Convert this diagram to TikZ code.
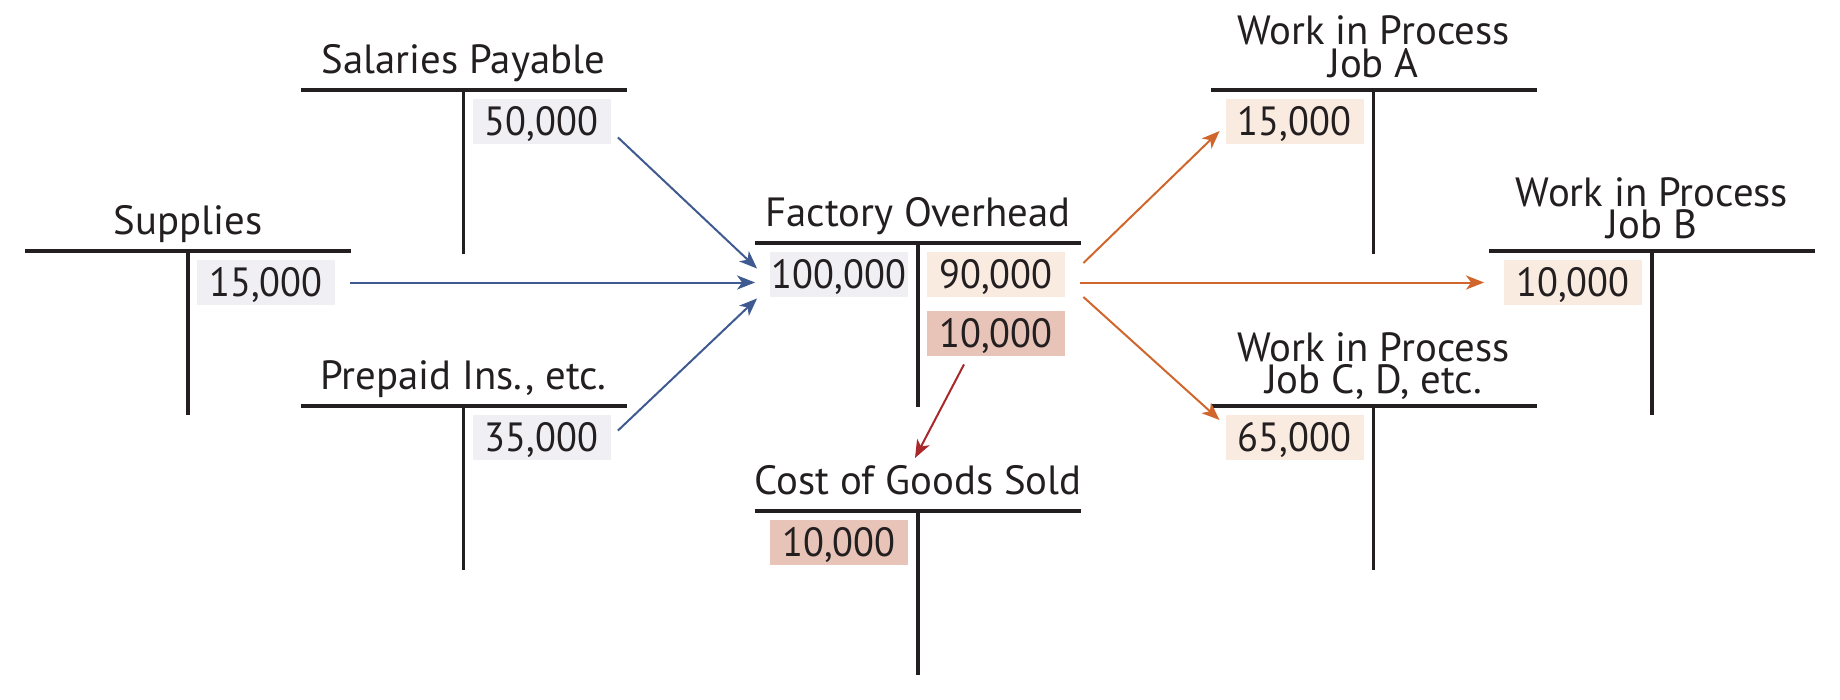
\documentclass[tikz,border=0pt]{standalone}
\usepackage{fontspec}
\setmainfont{PT Sans}
\newfontfamily\valfont[FakeStretch=0.94]{PT Sans}
\usetikzlibrary{arrows.meta,calc}
\definecolor{bbox}{RGB}{239,239,244}
\definecolor{obox}{RGB}{250,235,225}
\definecolor{rbox}{RGB}{232,196,184}
\definecolor{barr}{RGB}{63,90,145}
\definecolor{oarr}{RGB}{208,102,43}
\definecolor{rarr}{RGB}{168,40,43}
\definecolor{ink}{RGB}{35,31,32}
\newcommand{\tacc}[3]{%
  \coordinate (#1) at (#2,#3);
  \draw[hline] ([shift={(-163,0)}]#1) -- ([shift={(163,0)}]#1);
  \draw[vline] (#1) -- ([shift={(0,164)}]#1);
}
\begin{document}
\begin{tikzpicture}[x=0.5pt,y=-0.5pt,
  hline/.style={draw=ink,line width=2pt},
  vline/.style={draw=ink,line width=1.7pt},
  title/.style={anchor=base,inner sep=0pt,font=\fontsize{20.4}{24}\selectfont,text=ink},
  title2/.style={anchor=south,inner sep=0pt,align=center,text depth=0pt,font=\fontsize{20.4}{16.3}\selectfont,text=ink},
  val/.style={inner sep=0pt,minimum width=69pt,minimum height=22.5pt,text height=14.2pt,text depth=0pt,font=\valfont\fontsize{20.4}{24}\selectfont,text=ink},
  arr/.style={line width=1pt,-{Stealth[length=9pt,width=7pt,inset=2.5pt]}},
]
\useasboundingbox (0,0) rectangle (1840,700);

\tacc{sal}{463.5}{90}
\tacc{sup}{188}{251}
\tacc{pre}{463.5}{406}
\tacc{fo}{918}{243}
\tacc{cogs}{918}{511}
\tacc{ja}{1373.5}{90}
\tacc{jb}{1652}{251}
\tacc{jc}{1373.5}{406}

\node[title] (salT) at (463.5,73.5) {Salaries Payable};
\node[title] (supT) at (188,234.5) {Supplies};
\node[title] (preT) at (463.5,389.5) {Prepaid Ins., etc.};
\node[title] (foT) at (918,226.5) {Factory Overhead};
\node[title] (cogsT) at (918,494.5) {Cost of Goods Sold};
\node[title2] (jaT) at (1373.5,78) {Work in Process\\Job A};
\node[title2] (jbT) at (1652,239) {Work in Process\\Job B};
\node[title2] (jcT) at (1373.5,394) {Work in Process\\Job C, D, etc.};

\node[val,fill=bbox] (salV) at (541.5,121.5) {50,000};
\node[val,fill=bbox] (supV) at (266,282.5) {15,000};
\node[val,fill=bbox] (preV) at (541.5,437.5) {35,000};
\node[val,fill=bbox] (foL) at (839,274.5) {100,000};
\node[val,fill=obox] (foR1) at (996,274.5) {90,000};
\node[val,fill=rbox] (foR2) at (996,333.5) {10,000};
\node[val,fill=rbox] (cogsV) at (839,542.5) {10,000};
\node[val,fill=obox] (jaV) at (1294.5,121.5) {15,000};
\node[val,fill=obox] (jbV) at (1573,282.5) {10,000};
\node[val,fill=obox] (jcV) at (1294.5,437.5) {65,000};

\draw[arr,barr] ([shift={(7,-7)}]salV.south east) -- ([shift={(-12.5,17)}]foL.north west);
\draw[arr,barr] ([shift={(15,0)}]supV.east) -- ([shift={(-14.5,0)}]foL.west |- supV.east);
\draw[arr,barr] ([shift={(7,16)}]preV.north east) -- ([shift={(-12.5,1)}]foL.south west);

\draw[arr,oarr] ([shift={(18,-11.5)}]foR1.east) -- ([shift={(-5.5,9.5)}]jaV.west);
\draw[arr,oarr] ([shift={(15,0)}]foR1.east |- jbV.west) -- ([shift={(-19.5,0)}]jbV.west);
\draw[arr,oarr] ([shift={(18,22.5)}]foR1.east) -- ([shift={(-5.5,-17.5)}]jcV.west);

\coordinate (cogsTip) at ([shift={(-3,-36.5)}]cogsT.base);
\draw[arr,rarr] ([shift={(-32,8)}]foR2.south) -- (cogsTip);
\end{tikzpicture}
\end{document}
